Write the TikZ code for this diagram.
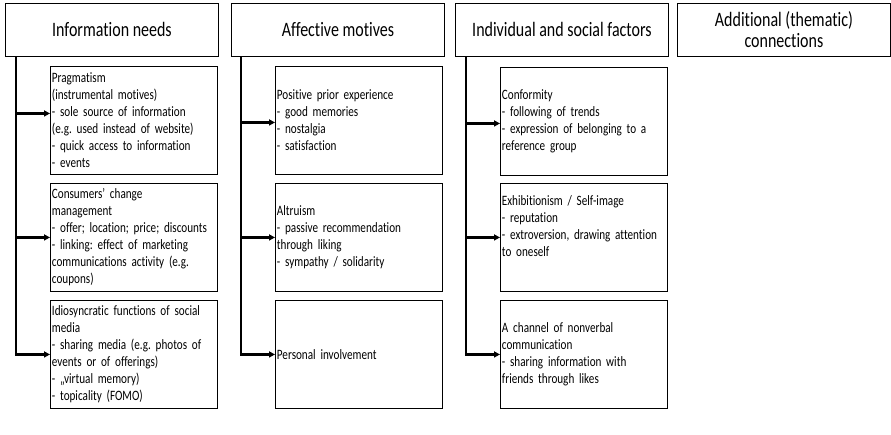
\documentclass[tikz,border=0pt]{standalone}
\usepackage{fontspec}
\setmainfont{Carlito}[FakeStretch=0.78,Ligatures=NoCommon]
\usetikzlibrary{arrows.meta}
\frenchspacing
\hyphenpenalty=10000
\newcommand{\hdrfont}{\fontsize{20.5}{21}\selectfont}
\newcommand{\itemfont}{\fontsize{14.3}{17}\selectfont}

\begin{document}
\begin{tikzpicture}[x=1pt,y=-1pt]
    \tikzstyle{header}=[draw,line width=0.9pt,anchor=north west,minimum width=213pt,minimum height=53pt,align=center,font=\hdrfont]
    \tikzstyle{item}=[draw,line width=0.9pt,anchor=north west,text width=164pt,inner xsep=1.5pt,inner ysep=1pt,minimum height=108pt,align=left,font=\itemfont]
    \tikzstyle{link}=[line width=2.2pt,-{Triangle[length=6pt,width=6pt]}]
    \useasboundingbox (0,0) rectangle (891,434);
    % headers
    \node[header] (needs) at (5,3) {Information needs};
    \node[header] (affect) at (231,3) {Affective motives};
    \node[header] (social) at (455,3) {Individual and social factors};
    \node[header] (extra) at (677,3) {Additional (thematic)\\connections};
    % information needs
    \node[item] (pragm) at (50,66) {Pragmatism\\(instrumental motives)\\- sole source of information\\(e.g. used instead of website)\\- quick access to information\\- events};
    \node[item] (consum) at (50,183) {Consumers’ change\\management\\- offer; location; price; discounts\\- linking: effect of marketing\\communications activity (e.g.\\coupons)};
    \node[item] (idio) at (50,300) {Idiosyncratic functions of social\\media\\- sharing media (e.g. photos of\\events or of offerings)\\- „virtual memory)\\- topicality (FOMO)};
    % affective motives
    \node[item] (prior) at (275,66) {Positive prior experience\\- good memories\\- nostalgia\\- satisfaction};
    \node[item] (altru) at (275,183) {Altruism\\- passive recommendation\\through liking\\- sympathy / solidarity};
    \node[item] (involv) at (275,300) {Personal involvement};
    % individual and social factors
    \node[item] (conform) at (500,67) {Conformity\\- following of trends\\- expression of belonging to a\\reference group};
    \node[item] (exhib) at (500,183) {Exhibitionism / Self-image\\- reputation\\- extroversion, drawing attention\\to oneself\\\strut};
    \node[item] (nonverb) at (500,300) {A channel of nonverbal\\communication\\- sharing information with\\friends through likes};
    % connectors
    \draw[link] ([xshift=11pt]needs.south west) |- ([yshift=7pt]pragm.west);
    \draw[link] ([xshift=11pt]needs.south west) |- (consum.west);
    \draw[link] ([xshift=11pt]needs.south west) |- (idio.west);
    \draw[link] ([xshift=10pt]affect.south west) |- ([yshift=-2pt]prior.west);
    \draw[link] ([xshift=10pt]affect.south west) |- (altru.west);
    \draw[link] ([xshift=10pt]affect.south west) |- (involv.west);
    \draw[link] ([xshift=11pt]social.south west) |- ([yshift=-2pt]conform.west);
    \draw[link] ([xshift=11pt]social.south west) |- (exhib.west);
    \draw[link] ([xshift=11pt]social.south west) |- (nonverb.west);
  \end{tikzpicture}
\end{document}
